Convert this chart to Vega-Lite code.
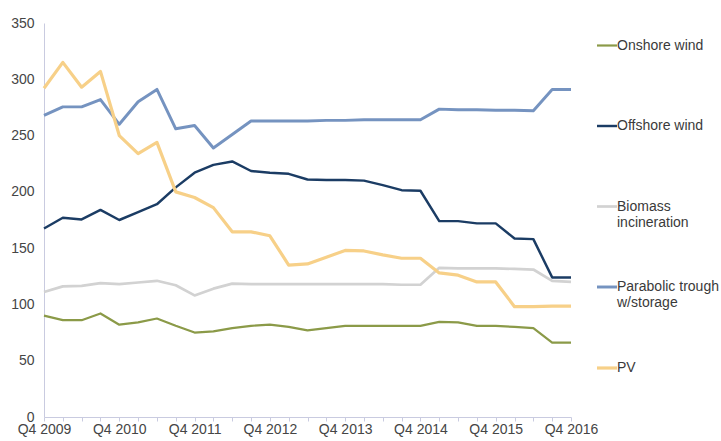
{
  "$schema": "https://vega.github.io/schema/vega-lite/v6.json",
  "width": 527,
  "height": 394,
  "padding": {"left": 10, "top": 16, "right": 0, "bottom": 5},
  "background": "white",
  "config": {
    "view": {"stroke": null},
    "font": "Liberation Sans",
    "axis": {"labelFont": "Liberation Sans", "labelFontSize": 14, "labelColor": "#454545", "grid": false, "domainColor": "#c9cbe0", "tickColor": "#c9cbe0", "title": null}
  },
  "data": {"values": [
    {"q": "Q4 2009", "Onshore wind": 90, "Offshore wind": 167.5, "Biomass incineration": 111, "Parabolic trough w/storage": 268, "PV": 292},
    {"q": "Q1 2010", "Onshore wind": 86, "Offshore wind": 177, "Biomass incineration": 116, "Parabolic trough w/storage": 275.5, "PV": 315},
    {"q": "Q2 2010", "Onshore wind": 86, "Offshore wind": 175.5, "Biomass incineration": 116.5, "Parabolic trough w/storage": 275.5, "PV": 293},
    {"q": "Q3 2010", "Onshore wind": 92, "Offshore wind": 184, "Biomass incineration": 119, "Parabolic trough w/storage": 282, "PV": 307},
    {"q": "Q4 2010", "Onshore wind": 82, "Offshore wind": 175, "Biomass incineration": 118, "Parabolic trough w/storage": 260, "PV": 250},
    {"q": "Q1 2011", "Onshore wind": 84, "Offshore wind": 182, "Biomass incineration": 119.5, "Parabolic trough w/storage": 280, "PV": 234},
    {"q": "Q2 2011", "Onshore wind": 87.5, "Offshore wind": 189, "Biomass incineration": 121, "Parabolic trough w/storage": 291, "PV": 244},
    {"q": "Q3 2011", "Onshore wind": 81, "Offshore wind": 204, "Biomass incineration": 117, "Parabolic trough w/storage": 256, "PV": 200},
    {"q": "Q4 2011", "Onshore wind": 75, "Offshore wind": 217, "Biomass incineration": 108, "Parabolic trough w/storage": 259, "PV": 195},
    {"q": "Q1 2012", "Onshore wind": 76, "Offshore wind": 224, "Biomass incineration": 114, "Parabolic trough w/storage": 239, "PV": 186},
    {"q": "Q2 2012", "Onshore wind": 79, "Offshore wind": 227, "Biomass incineration": 118.5, "Parabolic trough w/storage": 251, "PV": 164.5},
    {"q": "Q3 2012", "Onshore wind": 81, "Offshore wind": 218.5, "Biomass incineration": 118, "Parabolic trough w/storage": 263, "PV": 164.5},
    {"q": "Q4 2012", "Onshore wind": 82, "Offshore wind": 217, "Biomass incineration": 118, "Parabolic trough w/storage": 263, "PV": 161},
    {"q": "Q1 2013", "Onshore wind": 80, "Offshore wind": 216, "Biomass incineration": 118, "Parabolic trough w/storage": 263, "PV": 135},
    {"q": "Q2 2013", "Onshore wind": 77, "Offshore wind": 211, "Biomass incineration": 118, "Parabolic trough w/storage": 263, "PV": 136},
    {"q": "Q3 2013", "Onshore wind": 79, "Offshore wind": 210.5, "Biomass incineration": 118, "Parabolic trough w/storage": 263.5, "PV": 142},
    {"q": "Q4 2013", "Onshore wind": 81, "Offshore wind": 210.5, "Biomass incineration": 118, "Parabolic trough w/storage": 263.5, "PV": 148},
    {"q": "Q1 2014", "Onshore wind": 81, "Offshore wind": 210, "Biomass incineration": 118, "Parabolic trough w/storage": 264, "PV": 147.5},
    {"q": "Q2 2014", "Onshore wind": 81, "Offshore wind": 206, "Biomass incineration": 118, "Parabolic trough w/storage": 264, "PV": 144},
    {"q": "Q3 2014", "Onshore wind": 81, "Offshore wind": 201.5, "Biomass incineration": 117.5, "Parabolic trough w/storage": 264, "PV": 141},
    {"q": "Q4 2014", "Onshore wind": 81, "Offshore wind": 201, "Biomass incineration": 117.5, "Parabolic trough w/storage": 264, "PV": 141},
    {"q": "Q1 2015", "Onshore wind": 84.5, "Offshore wind": 174, "Biomass incineration": 132.5, "Parabolic trough w/storage": 273.5, "PV": 128},
    {"q": "Q2 2015", "Onshore wind": 84, "Offshore wind": 174, "Biomass incineration": 132, "Parabolic trough w/storage": 273, "PV": 126},
    {"q": "Q3 2015", "Onshore wind": 81, "Offshore wind": 172, "Biomass incineration": 132, "Parabolic trough w/storage": 273, "PV": 120},
    {"q": "Q4 2015", "Onshore wind": 81, "Offshore wind": 172, "Biomass incineration": 132, "Parabolic trough w/storage": 272.5, "PV": 120},
    {"q": "Q1 2016", "Onshore wind": 80, "Offshore wind": 158.5, "Biomass incineration": 131.5, "Parabolic trough w/storage": 272.5, "PV": 98},
    {"q": "Q2 2016", "Onshore wind": 79, "Offshore wind": 158, "Biomass incineration": 131, "Parabolic trough w/storage": 272, "PV": 98},
    {"q": "Q3 2016", "Onshore wind": 66, "Offshore wind": 124, "Biomass incineration": 121, "Parabolic trough w/storage": 291, "PV": 98.5},
    {"q": "Q4 2016", "Onshore wind": 66, "Offshore wind": 124, "Biomass incineration": 120, "Parabolic trough w/storage": 291, "PV": 98.5}
  ]},
  "transform": [
    {"fold": ["Onshore wind", "Offshore wind", "Biomass incineration", "Parabolic trough w/storage", "PV"], "as": ["series", "value"]}
  ],
  "mark": {"type": "line", "strokeJoin": "round", "strokeCap": "butt"},
  "encoding": {
    "x": {
      "field": "q", "type": "ordinal", "sort": null,
      "scale": {"type": "point", "padding": 0},
      "axis": {"labelAngle": 0, "tickSize": 4, "labelPadding": 1, "labelOverlap": false,
               "labelExpr": "indexof(datum.value, 'Q4') === 0 ? datum.value : ''"}
    },
    "y": {
      "field": "value", "type": "quantitative",
      "scale": {"domain": [0, 350], "nice": false},
      "axis": {"values": [0, 50, 100, 150, 200, 250, 300, 350], "ticks": false, "labelPadding": 10}
    },
    "color": {
      "field": "series", "type": "nominal",
      "scale": {"domain": ["Onshore wind", "Offshore wind", "Biomass incineration", "Parabolic trough w/storage", "PV"],
                "range": ["#8b9a48", "#1b3c64", "#d2d2d2", "#7593c0", "#f7d088"]},
      "legend": {
        "title": null, "orient": "right", "offset": 11, "padding": 11,
        "gridAlign": "all",
        "symbolType": "stroke", "symbolSize": 400, "symbolStrokeWidth": 2.5,
        "labelFont": "Liberation Sans", "labelFontSize": 14, "labelColor": "#3a3a3a", "labelOffset": -2, "labelLimit": 300,
        "labelBaseline": "top",
        "rowPadding": 45.5,
        "labelExpr": "datum.label == 'Biomass incineration' ? ['Biomass', 'incineration'] : datum.label == 'Parabolic trough w/storage' ? ['Parabolic trough', 'w/storage'] : datum.label",
        "encode": {"labels": {"update": {"dy": {"value": -7}}}}
      }
    },
    "strokeWidth": {
      "field": "series", "type": "nominal",
      "scale": {"domain": ["Onshore wind", "Offshore wind", "Biomass incineration", "Parabolic trough w/storage", "PV"],
                "range": [2.2, 3.2, 2, 2.2, 2]},
      "legend": null
    }
  }
}
